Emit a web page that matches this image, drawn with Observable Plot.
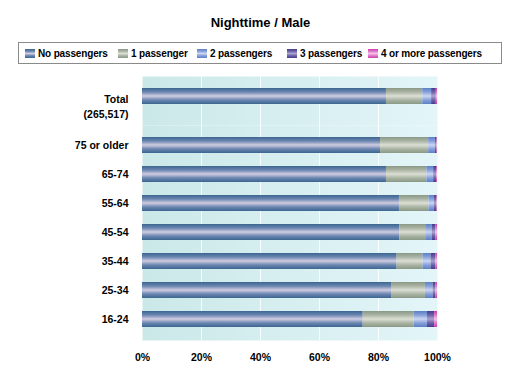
<!DOCTYPE html>
<html><head><meta charset="utf-8">
<script src="https://cdn.jsdelivr.net/npm/d3@7"></script>
<script src="https://cdn.jsdelivr.net/npm/@observablehq/plot@0.6"></script>
<style>
body{margin:0;background:#fff;font-family:"Liberation Sans",Arial,sans-serif;color:#000}
#wrap{position:relative;width:521px;height:381px;overflow:hidden}
#title{position:absolute;top:15px;left:0;width:521px;text-align:center;font-weight:bold;font-size:13px}
#legend{position:absolute;left:18px;top:42px;width:484px;height:22px;border:1px solid #8a8a8a;box-sizing:border-box;font-size:10px;font-weight:bold;letter-spacing:-0.15px}
.item{position:absolute;top:0;height:20px;display:flex;align-items:center;white-space:nowrap}
.sw{width:10px;height:9px;margin-right:3px}
#top{position:absolute;left:0;top:76px}
#bottom{position:absolute;left:0;top:125px}
</style>
</head><body>
<div id="wrap">
  <div id="title">Nighttime / Male</div>
  <div id="legend"></div>
  <div id="top"></div>
  <div id="bottom"></div>
</div>
<script>
const series = ["No passengers","1 passenger","2 passengers","3 passengers","4 or more passengers"];
const totalLabel = "Total\n(265,517)";
const totalValues = [82.7, 12.3, 3.0, 1.6, 0.4];
const ageGroups = ["75 or older","65-74","55-64","45-54","35-44","25-34","16-24"];
const noPassengers    = [80.7, 82.7, 87.1, 87.2, 86.3, 84.6, 74.8];
const onePassenger    = [16.3, 13.7, 10.0,  8.8,  8.8, 11.3, 17.3];
const twoPassengers   = [ 2.3,  2.3,  1.9,  2.2,  2.7,  2.6,  4.5];
const threePassengers = [ 0.5,  1.0,  0.8,  1.2,  1.6,  1.0,  2.4];
const fourPlus        = [ 0.2,  0.3,  0.2,  0.6,  0.6,  0.5,  1.0];
const xTicks = [0, 20, 40, 60, 80, 100];
const gridTicks = [20, 40, 60, 80];

const seriesValues = [noPassengers, onePassenger, twoPassengers, threePassengers, fourPlus];
// legend item offsets (layout)
const legendLeft = [6, 99, 178, 268, 349];
// gradient colours per series: [edge, mid, centre]
const grad = [
  ["#3b6590", "#6a86b0", "#d0cce2"],
  ["#8a9886", "#aab4a4", "#dcdfd4"],
  ["#5a80c6", "#86a0da", "#cbd6f2"],
  ["#463c8a", "#6c62a8", "#aaa2d0"],
  ["#cc3cae", "#de78c8", "#f6c0ea"]
];

function defsMark(prefix) {
  return () => {
    const g = document.createElementNS("http://www.w3.org/2000/svg", "g");
    let s = "<defs>";
    grad.forEach((c, i) => {
      s += `<linearGradient id="${prefix}g${i}" x1="0" y1="0" x2="0" y2="1">
        <stop offset="0" stop-color="${c[0]}"/>
        <stop offset="0.25" stop-color="${c[1]}"/>
        <stop offset="0.5" stop-color="${c[2]}"/>
        <stop offset="0.75" stop-color="${c[1]}"/>
        <stop offset="1" stop-color="${c[0]}"/>
      </linearGradient>`;
    });
    s += `<linearGradient id="${prefix}bg" x1="0" y1="0" x2="1" y2="0">
      <stop offset="0" stop-color="#cbe8e8"/>
      <stop offset="1" stop-color="#e3f5f8"/>
    </linearGradient></defs>`;
    g.innerHTML = s;
    return g;
  };
}

// legend
const legend = document.getElementById("legend");
series.forEach((name, i) => {
  const c = grad[i];
  const item = document.createElement("div");
  item.className = "item";
  item.style.left = legendLeft[i] + "px";
  item.innerHTML = `<span class="sw" style="background:linear-gradient(${c[0]},${c[1]} 25%,${c[2]} 50%,${c[1]} 75%,${c[0]})"></span>${name}`;
  legend.appendChild(item);
});

const totalRows = series.map((s, i) => ({group: totalLabel, series: s, value: totalValues[i]}));
const ageRows = [];
ageGroups.forEach((a, j) => series.forEach((s, i) => ageRows.push({group: a, series: s, value: seriesValues[i][j]})));

const common = {
  width: 521,
  marginLeft: 142,
  marginRight: 84,
  style: {fontFamily: '"Liberation Sans", Arial, sans-serif', fontSize: "10.5px", fontWeight: "bold", color: "#000", background: "transparent", overflow: "visible"}
};

const topPlot = Plot.plot({
  ...common,
  height: 49,
  marginTop: 0,
  marginBottom: 0,
  x: {domain: [0, 100], axis: null},
  y: {domain: [totalLabel], range: [0, 39.4], padding: 0.4225},
  color: {domain: series, range: series.map((s, i) => `url(#tg${i})`)},
  marks: [
    defsMark("t"),
    Plot.frame({fill: "url(#tbg)", stroke: "none"}),
    Plot.ruleX(gridTicks, {stroke: "#ffffff", strokeOpacity: 0.8}),
    Plot.barX(totalRows, Plot.stackX({y: "group", x: "value", fill: "series"})),
    Plot.axisY({tickSize: 0, tickPadding: 14, lineAnchor: "top", lineHeight: 1.5, dy: -5, label: null})
  ]
});
document.getElementById("top").appendChild(topPlot);

const bottomPlot = Plot.plot({
  ...common,
  height: 256,
  marginTop: 0,
  marginBottom: 41,
  x: {domain: [0, 100]},
  y: {domain: ageGroups, range: [4, 209.7], paddingInner: 0.456, paddingOuter: 0.228},
  color: {domain: series, range: series.map((s, i) => `url(#bg${i})`)},
  marks: [
    defsMark("b"),
    Plot.frame({fill: "url(#bbg)", stroke: "none"}),
    Plot.ruleX(gridTicks, {stroke: "#ffffff", strokeOpacity: 0.8}),
    Plot.barX(ageRows, Plot.stackX({y: "group", x: "value", fill: "series"})),
    Plot.axisY({tickSize: 0, tickPadding: 14, label: null}),
    Plot.axisX({ticks: xTicks, tickSize: 0, tickPadding: 13, tickFormat: d => d + "%", label: null})
  ]
});
document.getElementById("bottom").appendChild(bottomPlot);
</script>
</body></html>
